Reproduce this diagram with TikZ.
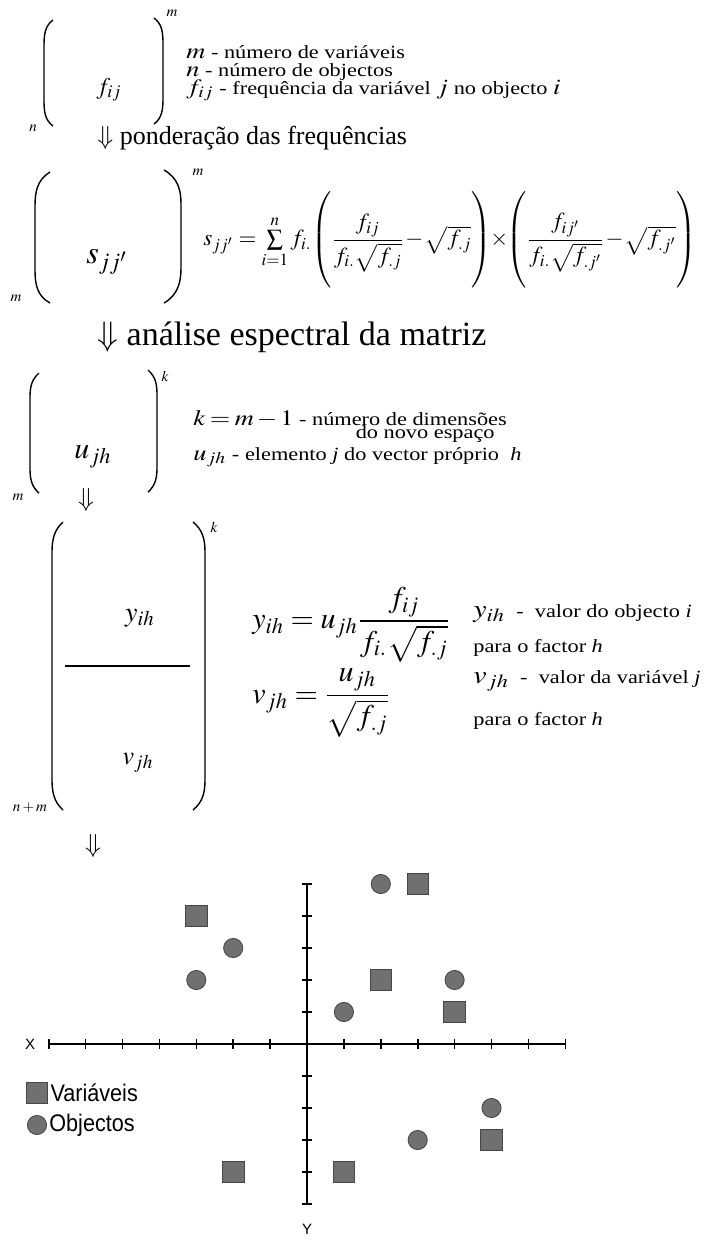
\documentclass[tikz,border=0pt]{standalone}
\usepackage{amsmath}
\usepackage{graphicx}
\usepackage{mathptmx}
\usepackage{fontspec}
\setmainfont{Liberation Serif}
\newfontfamily\legendfont{Liberation Sans}
\usetikzlibrary{positioning}
\definecolor{markfill}{RGB}{112,112,112}
\definecolor{markline}{RGB}{70,70,70}
\newcommand{\fs}[1]{\fontsize{#1}{#1}\selectfont}
\newcommand{\wide}[1]{\scalebox{1.2}[1]{#1}}
\newcommand{\narrow}[1]{\scalebox{0.9}[1]{#1}}

\begin{document}
\begin{tikzpicture}[x=0.5pt, y=-0.5pt,
  bracket/.style={line width=0.7pt},
  dimlabel/.style={inner sep=0pt, font=\fs{7.5}},
  entry/.style={inner sep=0pt, font=\fs{14}},
  note/.style={anchor=base west, inner sep=0pt, font=\fs{9.3}},
  stage/.style={anchor=base west, inner sep=0pt},
  formula/.style={anchor=west, inner sep=0pt},
  axisline/.style={line width=0.8pt},
  var/.style={rectangle, draw=markline, fill=markfill, minimum size=10.8pt, inner sep=0pt},
  obj/.style={circle, draw=markline, fill=markfill, minimum size=9.6pt, inner sep=0pt},
  axislabel/.style={inner sep=0pt, font=\legendfont\fs{7.5}},
  legend/.style={inner sep=0pt, font=\legendfont\fs{12}}]

  \fill[white] (0,0) rectangle (712,1244);
  \useasboundingbox (0,0) rectangle (712,1244);

  % frequency matrix
  \draw[bracket] (53,20) .. controls (45,26) and (44,34) .. (44,46) -- (44,100) .. controls (44,112) and (45,120) .. (53,126);
  \draw[bracket] (154,18) .. controls (162,24) and (163,32) .. (163,44) -- (163,98) .. controls (163,110) and (162,118) .. (154,124);
  \node[entry, font=\fs{12}] (fij) at (109,90) {$f_{ij}$};
  \node[dimlabel] (fcols) at (172,13) {$m$};
  \node[dimlabel] (frows) at (33,128) {$n$};
  \node[note] (mnote) at (186,58) {\wide{{\fs{11}$m$} - número de variáveis}};
  \node[note] (nnote) at (186,76) {\wide{{\fs{11}$n$} - número de objectos}};
  \node[note] (fnote) at (186,94) {\wide{{\fs{11}$f_{ij}$} - frequência da variável {\fs{11}$j$} no objecto {\fs{11}$i$}}};
  \node[stage, font=\fs{13}] (ponder) at (97,144) {$\Downarrow$ ponderação das frequências};

  % weighted matrix
  \draw[bracket] (50,172) .. controls (37,180) and (35,192) .. (35,206) -- (35,270) .. controls (35,284) and (37,296) .. (50,303);
  \draw[bracket] (164,170) .. controls (178,178) and (181,190) .. (181,204) -- (181,268) .. controls (181,282) and (178,295) .. (164,303);
  \node[entry, font=\fs{16}] (sjj) at (107,262) {$s_{jj'}$};
  \node[dimlabel] (scols) at (198,172) {$m$};
  \node[dimlabel] (srows) at (16,298) {$m$};
  \node[formula, font=\fs{11.5}] (sform) at (203,240)
    {$\medmuskip=1mu s_{jj'} = \sum\limits_{i=1}^{n} f_{i.}\!\left(\vrule height 21pt depth 21pt width 0pt\dfrac{f_{ij}}{f_{i.}\sqrt{f_{.j}}}-\sqrt{f_{.j}}\right)\!\times\!\left(\vrule height 21pt depth 21pt width 0pt\dfrac{f_{ij'}}{f_{i.}\sqrt{f_{.j'}}}-\sqrt{f_{.j'}}\right)$};
  \node[stage, font=\fs{17}] (spectral) at (97,345) {$\Downarrow$ análise espectral da matriz};

  % eigenvectors
  \draw[bracket] (39,373) .. controls (31,380) and (30,388) .. (30,398) -- (30,468) .. controls (30,478) and (31,486) .. (39,493);
  \draw[bracket] (148,370) .. controls (156,377) and (157,385) .. (157,395) -- (157,467) .. controls (157,477) and (156,485) .. (148,492);
  \node[entry, font=\fs{15}] (ujh) at (93,457) {$u_{jh}$};
  \node[dimlabel] (ucols) at (165,376) {$k$};
  \node[dimlabel] (urows) at (18,497) {$m$};
  \node[note] (knote) at (193,425) {\wide{{\fs{11}$\medmuskip=2mu\thickmuskip=3mu k=m-1$} - número de dimensões}};
  \node[note, anchor=base east] (knote2) at (495,438) {\wide{do novo espaço}};
  \node[note] (unote) at (193,460) {\wide{{\fs{11}$u_{jh}$} - elemento \textit{j} do vector próprio\ \ \textit{h}}};
  \node[entry, font=\fs{13}] (arrowu) at (86,500) {$\Downarrow$};

  % coordinates of objects and variables
  \draw[bracket] (63,522) .. controls (54,530) and (52,540) .. (52,552) -- (52,780) .. controls (52,792) and (54,802) .. (63,810);
  \draw[bracket] (193,522) .. controls (203,530) and (205,540) .. (205,552) -- (205,780) .. controls (205,792) and (203,802) .. (193,810);
  \node[entry] (yih) at (140,618) {$y_{ih}$};
  \node[entry, font=\fs{13}] (vjh) at (138,763) {$v_{jh}$};
  \draw[line width=0.9pt] (65,666) -- (190,666);
  \node[dimlabel] (ycols) at (214,527) {$k$};
  \node[dimlabel] (yrows) at (30,808) {$n+m$};
  \node[formula, font=\fs{15}] (yform) at (252,625) {$y_{ih} = u_{jh}\dfrac{f_{ij}}{f_{i.}\sqrt{f_{.j}}}$};
  \node[formula, font=\fs{15}] (vform) at (252,703) {$v_{jh} = \dfrac{u_{jh}}{\sqrt{f_{.j}}}$};
  \node[note] (ynote) at (473,617) {\wide{{\fs{12.5}$y_{ih}$}\ \ - \ valor do objecto \textit{i}}};
  \node[note] (ypara) at (473,652) {\wide{para o factor \textit{h}}};
  \node[note] (vnote) at (473,683) {\wide{{\fs{12.5}$v_{jh}$}\ \ - \ valor da variável \textit{j}}};
  \node[note] (vpara) at (473,725) {\wide{para o factor \textit{h}}};
  \node[entry, font=\fs{13}] (arrowy) at (93,846) {$\Downarrow$};

  % factor plane
  \begin{scope}[shift={(307,1044)}, x=18.45pt, y=16pt]
    \draw[axisline] (-7,0) -- (7,0);
    \draw[axisline] (0,5) -- (0,-5);
    \foreach \i in {-7,...,7}
      \draw[axisline] (\i,0.16) -- (\i,-0.16);
    \foreach \j in {-5,...,5}
      \draw[axisline] (-0.14,\j) -- (0.14,\j);
    \node[axislabel] (xaxis) at (-7.5,0) {X};
    \node[axislabel] (yaxis) at (0,-5.8) {Y};
    \foreach \px/\py [count=\n] in {3/5, -3/4, 2/2, 4/1, 5/-3, -2/-4, 1/-4}
      \node[var] (var\n) at (\px,\py) {};
    \foreach \px/\py [count=\n] in {2/5, -2/3, -3/2, 4/2, 1/1, 5/-2, 3/-3}
      \node[obj] (obj\n) at (\px,\py) {};
  \end{scope}

  % legend
  \node[var] (legvar) at (37,1093) {};
  \node[legend, right=1pt of legvar] (legvartext) {\narrow{Variáveis}};
  \node[obj] (legobj) at (37,1125) {};
  \node[legend, right=1pt of legobj] (legobjtext) {\narrow{Objectos}};

\end{tikzpicture}
\end{document}
